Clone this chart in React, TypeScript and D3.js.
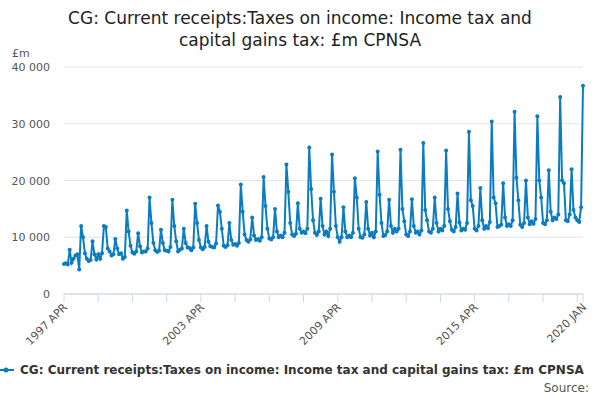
import * as d3 from "d3";
import React from "react";

// monthly values, one row per fiscal year (Apr..Mar), £m
const fy1997 = [5300, 5400, 5200, 7800, 5500, 6200, 6800, 7000, 4300, 12000, 10000, 7200];
const fy1998 = [6200, 5800, 6000, 9300, 7000, 6100, 7000, 6200, 7200, 12000, 11800, 8000];
const fy1999 = [7500, 6800, 7000, 9700, 8000, 7000, 7200, 6200, 6500, 14700, 11000, 8500];
const fy2000 = [7300, 7100, 7500, 10700, 8400, 7300, 7500, 7500, 8000, 17000, 12500, 9000];
const fy2001 = [7700, 7400, 7600, 11300, 9000, 7700, 7600, 7500, 8300, 16600, 12000, 9300];
const fy2002 = [7500, 7800, 8000, 11500, 9000, 8200, 8100, 7700, 8200, 15900, 12500, 9500];
const fy2003 = [8200, 7900, 8300, 12000, 9200, 8400, 8300, 8200, 8900, 15600, 14500, 11500];
const fy2004 = [8500, 8300, 8600, 12500, 9500, 8700, 8800, 8500, 9000, 19300, 14500, 10500];
const fy2005 = [9500, 9200, 9600, 13500, 10300, 9500, 9700, 9400, 10000, 20600, 15500, 11500];
const fy2006 = [9800, 9600, 10000, 15000, 11000, 10000, 10300, 10000, 10800, 22800, 18000, 12500];
const fy2007 = [10500, 10200, 10600, 16000, 11500, 10800, 11000, 10700, 11500, 25800, 18500, 13000];
const fy2008 = [10800, 10400, 11000, 16800, 12000, 10500, 11000, 10200, 11500, 24600, 18000, 12000];
const fy2009 = [10000, 9200, 10000, 15300, 11000, 10000, 10300, 10000, 10800, 20400, 17000, 11500];
const fy2010 = [10000, 9900, 10500, 16200, 11500, 10300, 10800, 10000, 11000, 25100, 17500, 12500];
const fy2011 = [10200, 10400, 11000, 16600, 12000, 10800, 11500, 11000, 11500, 25400, 15000, 12800];
const fy2012 = [10500, 10200, 11000, 16700, 12000, 10800, 11000, 10500, 11200, 26600, 14800, 13000];
const fy2013 = [11000, 10800, 11500, 17000, 12500, 11000, 11500, 11200, 12000, 25300, 15000, 12800];
const fy2014 = [11300, 11000, 11800, 17700, 12600, 11200, 11500, 11300, 12500, 28600, 16500, 15500];
const fy2015 = [11500, 11200, 12000, 18700, 13000, 11500, 12000, 11600, 12700, 30400, 17000, 16000];
const fy2016 = [11800, 12000, 12200, 19500, 13500, 12000, 12300, 12000, 13000, 32100, 20500, 16500];
const fy2017 = [12200, 11800, 12500, 20000, 13500, 12300, 12800, 12400, 13200, 31300, 20000, 17000];
const fy2018 = [12500, 12300, 13000, 21800, 14500, 13000, 13500, 13200, 14000, 34700, 20000, 19500];
const fy2019 = [13000, 12800, 14000, 22000, 14800, 13500, 13000, 12700, 15300, 36700];

const values = [
  fy1997, fy1998, fy1999, fy2000, fy2001, fy2002, fy2003, fy2004, fy2005, fy2006, fy2007, fy2008,
  fy2009, fy2010, fy2011, fy2012, fy2013, fy2014, fy2015, fy2016, fy2017, fy2018, fy2019,
].flat();

const monthNames = ["JAN", "FEB", "MAR", "APR", "MAY", "JUN", "JUL", "AUG", "SEP", "OCT", "NOV", "DEC"];
const labels = values.map((_, i) => {
  const m = 3 + i;
  return `${1997 + Math.floor(m / 12)} ${monthNames[m % 12]}`;
});
const tickLabels = ["1997 APR", "2003 APR", "2009 APR", "2015 APR", "2020 JAN"];
const yTicks = [0, 10000, 20000, 30000, 40000];

const title = ["CG: Current receipts:Taxes on income: Income tax and", "capital gains tax: £m CPNSA"];
const seriesName = "CG: Current receipts:Taxes on income: Income tax and capital gains tax: £m CPNSA";
const blue = "#0a7cc1";

export default function App() {
  const left = 64, right = 583, top = 67, bottom = 294;
  const x = d3.scaleLinear().domain([0, values.length - 1]).range([left, right]);
  const y = d3.scaleLinear().domain([0, 40000]).range([bottom, top]);
  const line = d3.line<number>().x((_, i) => x(i)).y((d) => y(d));
  const fmt = (v: number) => d3.format(",")(v).replace(",", " ");
  const minorTicks = d3.range(0, values.length, 18);
  const font = "'DejaVu Sans', sans-serif";

  return (
    <svg width={600} height={400} style={{ position: "absolute", left: 0, top: 0, fontFamily: font }}>
      {title.map((t, i) => (
        <text key={i} x={300} y={24 + i * 22} textAnchor="middle" fontSize={17} fill="#222">{t}</text>
      ))}
      <text x={12} y={57} fontSize={11} fill="#555">£m</text>
      {yTicks.map((t) => (
        <g key={t}>
          <line x1={left} x2={right} y1={y(t)} y2={y(t)} stroke="#e3e3e3" />
          <text x={50} y={y(t) + 4} textAnchor="end" fontSize={11} fill="#555">{fmt(t)}</text>
        </g>
      ))}
      <line x1={left} x2={right} y1={bottom} y2={bottom} stroke="#ccd6eb" />
      {[...minorTicks, values.length - 1].map((i) => (
        <line key={i} x1={x(i)} x2={x(i)} y1={bottom} y2={bottom + 8} stroke="#ccd6eb" />
      ))}
      {tickLabels.map((t) => {
        const i = labels.indexOf(t);
        return (
          <text key={t} transform={`translate(${x(i) + 4},${bottom + 14}) rotate(-45)`} textAnchor="end" fontSize={11} fill="#555">{t}</text>
        );
      })}
      <path d={line(values) ?? ""} fill="none" stroke={blue} strokeWidth={2} />
      {values.map((v, i) => (
        <circle key={i} cx={x(i)} cy={y(v)} r={2} fill={blue} />
      ))}
      <line x1={-2} x2={14} y1={370} y2={370} stroke={blue} strokeWidth={2} />
      <circle cx={6} cy={370} r={2.5} fill={blue} />
      <text x={20} y={374} fontSize={12} fontWeight="bold" fill="#333">{seriesName}</text>
      <text x={589} y={392} textAnchor="end" fontSize={12} fill="#555">Source:</text>
    </svg>
  );
}
